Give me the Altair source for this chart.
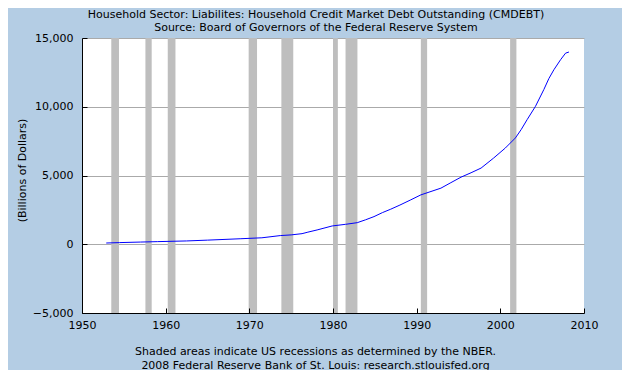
import altair as alt
import pandas as pd

# Household credit market debt outstanding (billions of dollars)
years = [1952.9, 1954.5, 1957.0, 1959.0, 1962.5, 1965.0, 1968.9, 1971.5, 1973.7,
         1975.0, 1976.3, 1977.0, 1978.1, 1979.9, 1981.5, 1982.9, 1983.9, 1984.9,
         1985.9, 1986.9, 1988.0, 1989.3, 1990.5, 1992.9, 1994.0, 1995.3, 1996.5,
         1997.7, 1999.2, 2000.6, 2001.8, 2002.5, 2003.2, 2004.2, 2005.2, 2005.8,
         2006.4, 2007.2, 2007.8, 2008.2]
values = [90, 120, 160, 190, 240, 300, 400, 470, 630,
          680, 770, 880, 1040, 1330, 1450, 1570, 1780, 2010,
          2300, 2550, 2850, 3230, 3590, 4080, 4450, 4880, 5200,
          5540, 6270, 7000, 7730, 8350, 9060, 10030, 11250, 12050,
          12690, 13420, 13900, 13980]

# NBER recessions (decimal years)
rec_start = [1953.50, 1957.58, 1960.25, 1969.92, 1973.83, 1980.00, 1981.50, 1990.50, 2001.17]
rec_end = [1954.42, 1958.33, 1961.17, 1970.92, 1975.25, 1980.58, 1982.92, 1991.25, 2001.92]

x_ticks = [1950, 1960, 1970, 1980, 1990, 2000, 2010]
y_ticks = [-5000, 0, 5000, 10000, 15000]

title_lines = ["Household Sector: Liabilites: Household Credit Market Debt Outstanding (CMDEBT)",
               "Source: Board of Governors of the Federal Reserve System"]
footer_lines = ["Shaded areas indicate US recessions as determined by the NBER.",
                "2008 Federal Reserve Bank of St. Louis: research.stlouisfed.org"]
y_title = "(Billions of Dollars)"

df = pd.DataFrame({"year": years, "value": values})
rec = pd.DataFrame({"start": rec_start, "end": rec_end})

W, H = 502, 275
FONT = "DejaVu Sans"

xscale = alt.Scale(domain=[1950, 2010], nice=False, zero=False)
yscale = alt.Scale(domain=[-5000, 15000], nice=False, zero=False)

main_x_axis = alt.Axis(
    values=x_ticks, format="d", labelFlush=False, labelOverlap=False,
    grid=False, domain=False, ticks=False, labelPadding=6,
    labelFont=FONT, labelFontSize=11, labelColor="#000000",
    title=footer_lines, titleFont=FONT, titleFontSize=11, titleFontWeight="normal",
    titleColor="#000000", titleX=233, titleY=32, titleAlign="center",
    titleBaseline="top", titleLineHeight=14, orient="bottom", zindex=0)

main_y_axis = alt.Axis(
    values=y_ticks, format=",.0f", labelFlush=False, labelOverlap=False,
    grid=True, gridColor="#AAAAAA", gridWidth=1, domain=False, ticks=False,
    labelPadding=9, labelFont=FONT, labelFontSize=11, labelColor="#000000",
    title=y_title, titleFont=FONT, titleFontSize=11, titleFontWeight="normal",
    titleColor="#000000", titleX=-60, titleY=132, titleAlign="center",
    titleBaseline="middle", orient="left", zindex=0)

tick_x_axis = alt.Axis(
    values=x_ticks, orient="top", offset=-H,
    labels=False, title=None, grid=False, domain=True, domainColor="#000000",
    domainWidth=1, ticks=True, tickColor="#000000", tickSize=5, tickWidth=1, zindex=1)

tick_y_axis = alt.Axis(
    values=y_ticks, orient="right", offset=-W,
    labels=False, title=None, grid=False, domain=True, domainColor="#000000",
    domainWidth=1, ticks=True, tickColor="#000000", tickSize=5, tickWidth=1, zindex=1)

bars = alt.Chart(rec).mark_rect(color="#BEBEBE").encode(
    x=alt.X("start:Q", scale=xscale, axis=tick_x_axis),
    x2="end:Q",
    y=alt.Y(datum=15000, type="quantitative", scale=yscale, axis=tick_y_axis),
    y2=alt.datum(-5000),
)

line = alt.Chart(df).mark_line(color="#0000FF", strokeWidth=1, interpolate="linear").encode(
    x=alt.X("year:Q", scale=xscale, axis=main_x_axis),
    y=alt.Y("value:Q", scale=yscale, axis=main_y_axis),
)

chart = alt.layer(bars, line).resolve_axis(x="independent", y="independent").properties(
    width=W, height=H,
    background="#B4CDE4",
    padding={"left": 74, "top": 30, "right": 38, "bottom": 57},
    autosize=alt.AutoSizeParams(type="none"),
    title=alt.TitleParams(text=title_lines, font=FONT, fontSize=11, fontWeight="normal",
                          color="#000000", anchor="middle", dx=-17, dy=9, offset=8,
                          lineHeight=13),
).configure_view(stroke=None, fill="#FFFFFF")

chart.save("out.html", embed_options={"renderer": "svg", "actions": False})
